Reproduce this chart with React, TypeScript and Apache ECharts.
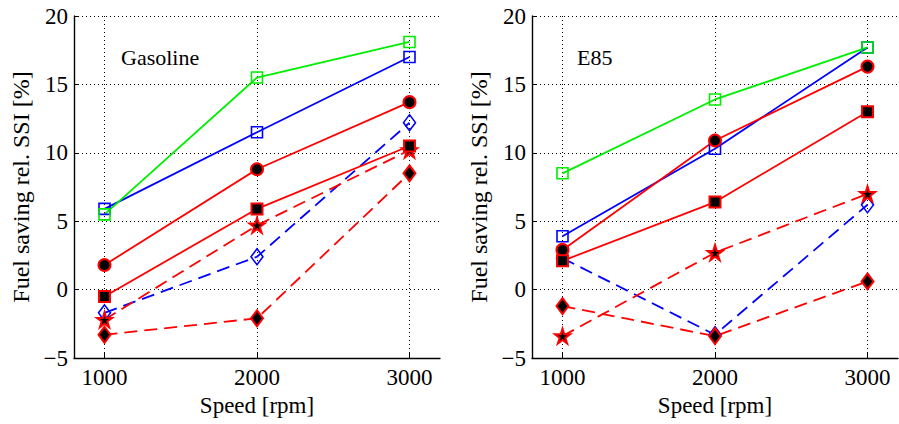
import React, { useEffect, useRef } from 'react';
import * as echarts from 'echarts';

const speeds = [1000, 2000, 3000];
const xTicks = [1000, 2000, 3000];
const panelTitles = ['Gasoline', 'E85'];
const xName = 'Speed [rpm]';
const yName = 'Fuel saving rel. SSI [%]';

// Gasoline
const gasBlueSquare = [5.9, 11.5, 17.0];
const gasGreenSquare = [5.5, 15.5, 18.1];
const gasRedCircle = [1.8, 8.8, 13.7];
const gasRedSquare = [-0.5, 5.9, 10.5];
const gasRedStar = [-2.2, 4.7, 10.2];
const gasBlueDiamond = [-1.7, 2.4, 12.2];
const gasRedDiamond = [-3.3, -2.1, 8.5];

// E85
const e85BlueSquare = [3.9, 10.3, 17.7];
const e85GreenSquare = [8.5, 13.9, 17.7];
const e85RedCircle = [2.9, 10.9, 16.3];
const e85RedSquare = [2.1, 6.4, 13.0];
const e85RedStar = [-3.4, 2.7, 7.0];
const e85BlueDiamond = [2.3, -3.3, 6.2];
const e85RedDiamond = [-1.2, -3.4, 0.6];

function starPath(): string {
  const pts: string[] = [];
  const R = 50;
  const r = 19;
  for (let i = 0; i < 10; i++) {
    const rad = i % 2 === 0 ? R : r;
    const a = -Math.PI / 2 + (i * Math.PI) / 5;
    pts.push(`${(50 + rad * Math.cos(a)).toFixed(2)} ${(50 + rad * Math.sin(a)).toFixed(2)}`);
  }
  return 'path://M' + pts.join(' L') + ' Z';
}
const STAR = starPath();

const FONT = '"Liberation Serif", "Times New Roman", serif';
const RED = '#ff0000';
const BLUE = '#0000ff';
const GREEN = '#00ee00';
const NONE = 'rgba(255,255,255,0)';
const AXIS = '#000000';

type Kind = 'blueSq' | 'greenSq' | 'redCircle' | 'redSq' | 'redStar' | 'blueDia' | 'redDia';

function styleFor(kind: Kind) {
  switch (kind) {
    case 'blueSq':
      return { color: BLUE, dashed: false, symbol: 'rect', size: 11, fill: NONE, bw: 1.6 };
    case 'greenSq':
      return { color: GREEN, dashed: false, symbol: 'rect', size: 11, fill: NONE, bw: 1.6 };
    case 'redCircle':
      return { color: RED, dashed: false, symbol: 'circle', size: 12, fill: '#000', bw: 2 };
    case 'redSq':
      return { color: RED, dashed: false, symbol: 'rect', size: 11, fill: '#000', bw: 2 };
    case 'redStar':
      return { color: RED, dashed: true, symbol: STAR, size: 15, fill: '#000', bw: 2 };
    case 'blueDia':
      return { color: BLUE, dashed: true, symbol: 'diamond', size: [12, 16], fill: NONE, bw: 1.6 };
    case 'redDia':
      return { color: RED, dashed: true, symbol: 'diamond', size: [12, 16], fill: '#000', bw: 2 };
  }
}

function mk(vals: number[], idx: number, kind: Kind) {
  const s = styleFor(kind)!;
  return {
    type: 'line',
    xAxisIndex: idx,
    yAxisIndex: idx,
    data: speeds.map((x, i) => [x, vals[i]]),
    symbol: s.symbol,
    symbolSize: s.size,
    showAllSymbol: true,
    silent: true,
    lineStyle: { color: s.color, width: 1.8, type: s.dashed ? [13, 7] : 'solid' },
    itemStyle: { color: s.fill, borderColor: s.color, borderWidth: s.bw },
    emphasis: { disabled: true },
  };
}

const minus = (v: number) => (v < 0 ? '\u2212' + Math.abs(v) : String(v));

function xAxis(idx: number) {
  return {
    type: 'value',
    gridIndex: idx,
    min: 800,
    max: 3200,
    name: xName,
    nameLocation: 'middle',
    nameGap: 33,
    nameTextStyle: { fontFamily: FONT, fontSize: 23, color: '#000' },
    axisLine: { show: true, onZero: false, lineStyle: { color: AXIS, width: 1.4 } },
    axisTick: { show: true, inside: true, length: 5, customValues: xTicks, lineStyle: { color: AXIS, width: 1 } },
    axisLabel: {
      customValues: xTicks,
      fontFamily: FONT,
      fontSize: 23,
      color: '#000',
      margin: 8,
      formatter: minus,
    },
    splitLine: { show: true, lineStyle: { color: '#000', width: 1, type: [1, 3] } },
  };
}

function yAxis(idx: number) {
  return {
    type: 'value',
    gridIndex: idx,
    min: -5,
    max: 20,
    interval: 5,
    name: yName,
    nameLocation: 'middle',
    nameGap: 41,
    nameTextStyle: { fontFamily: FONT, fontSize: 24, color: '#000' },
    axisLine: { show: true, onZero: false, lineStyle: { color: AXIS, width: 1.4 } },
    axisTick: { show: true, inside: true, length: 5, lineStyle: { color: AXIS, width: 1 } },
    axisLabel: { fontFamily: FONT, fontSize: 23, color: '#000', margin: 6, formatter: minus },
    splitLine: { show: true, lineStyle: { color: '#000', width: 1, type: [1, 3] } },
  };
}

export default function App() {
  const ref = useRef<HTMLDivElement>(null);
  useEffect(() => {
    if (!ref.current) return;
    const chart = echarts.init(ref.current, null, { renderer: 'svg' });
    chart.setOption({
      animation: false,
      backgroundColor: '#fff',
      textStyle: { fontFamily: FONT },
      grid: [
        { left: 74, top: 16, width: 366, height: 342 },
        { left: 532, top: 16, width: 366, height: 342 },
      ],
      xAxis: [xAxis(0), xAxis(1)],
      yAxis: [yAxis(0), yAxis(1)],
      graphic: [
        {
          type: 'text',
          left: 121,
          top: 46,
          style: { text: panelTitles[0], fontFamily: FONT, fontSize: 22, fill: '#000' },
        },
        {
          type: 'text',
          left: 577,
          top: 46,
          style: { text: panelTitles[1], fontFamily: FONT, fontSize: 22, fill: '#000' },
        },
      ],
      series: [
        mk(gasBlueDiamond, 0, 'blueDia'),
        mk(gasRedDiamond, 0, 'redDia'),
        mk(gasRedStar, 0, 'redStar'),
        mk(gasBlueSquare, 0, 'blueSq'),
        mk(gasGreenSquare, 0, 'greenSq'),
        mk(gasRedCircle, 0, 'redCircle'),
        mk(gasRedSquare, 0, 'redSq'),
        mk(e85BlueDiamond, 1, 'blueDia'),
        mk(e85RedDiamond, 1, 'redDia'),
        mk(e85RedStar, 1, 'redStar'),
        mk(e85BlueSquare, 1, 'blueSq'),
        mk(e85GreenSquare, 1, 'greenSq'),
        mk(e85RedCircle, 1, 'redCircle'),
        mk(e85RedSquare, 1, 'redSq'),
      ],
    });
    return () => chart.dispose();
  }, []);
  return (
    <div
      ref={ref}
      style={{ position: 'fixed', left: 0, top: 0, width: 899, height: 424, background: '#fff' }}
    />
  );
}
